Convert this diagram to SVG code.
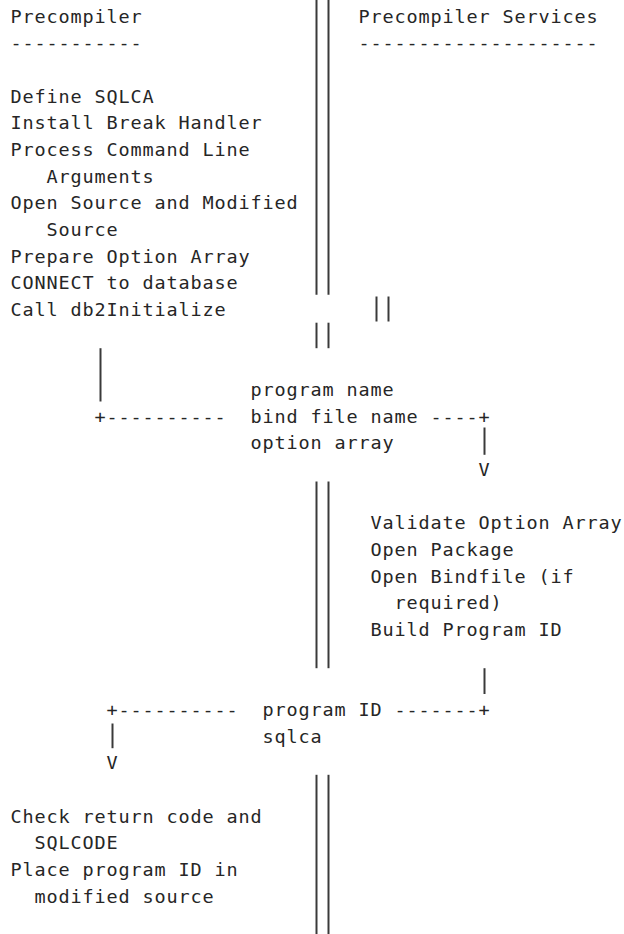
<svg xmlns="http://www.w3.org/2000/svg" width="624" height="934" viewBox="0 0 624 934">
  <style>
    text { font-family: "DejaVu Sans Mono", "Liberation Mono", monospace; font-size: 18.5px; letter-spacing: 0.86px; fill: #262626; white-space: pre; }
    .bar { stroke: #3a3a3a; stroke-width: 2; fill: none; }
  </style>
  <rect width="624" height="934" fill="#ffffff"/>

  <!-- column headings -->
  <g id="precompiler-heading">
    <text x="10.5" y="22.7">Precompiler</text>
    <text x="10.5" y="49.4">-----------</text>
  </g>
  <g id="services-heading">
    <text x="358.5" y="22.7">Precompiler Services</text>
    <text x="358.5" y="49.4">--------------------</text>
  </g>

  <!-- precompiler start-up steps -->
  <g id="precompiler-init">
    <text x="10.5" y="102.7">Define SQLCA</text>
    <text x="10.5" y="129.4">Install Break Handler</text>
    <text x="10.5" y="156.0">Process Command Line</text>
    <text x="46.5" y="182.7">Arguments</text>
    <text x="10.5" y="209.4">Open Source and Modified</text>
    <text x="46.5" y="236.0">Source</text>
    <text x="10.5" y="262.7">Prepare Option Array</text>
    <text x="10.5" y="289.4">CONNECT to database</text>
    <text x="10.5" y="316.0">Call db2Initialize</text>
  </g>

  <!-- parameters passed to db2Initialize -->
  <g id="init-parameters">
    <text x="250.5" y="396.0">program name</text>
    <text x="250.5" y="422.7">bind file name</text>
    <text x="250.5" y="449.4">option array</text>
  </g>

  <!-- services-side processing -->
  <g id="services-init">
    <text x="370.5" y="529.4">Validate Option Array</text>
    <text x="370.5" y="556.0">Open Package</text>
    <text x="370.5" y="582.7">Open Bindfile (if</text>
    <text x="394.5" y="609.4">required)</text>
    <text x="370.5" y="636.0">Build Program ID</text>
  </g>

  <!-- values returned to the precompiler -->
  <g id="init-results">
    <text x="262.5" y="716.0">program ID</text>
    <text x="262.5" y="742.7">sqlca</text>
  </g>

  <!-- precompiler follow-up steps -->
  <g id="precompiler-finish">
    <text x="10.5" y="822.7">Check return code and</text>
    <text x="34.5" y="849.4">SQLCODE</text>
    <text x="10.5" y="876.0">Place program ID in</text>
    <text x="34.5" y="902.7">modified source</text>
  </g>

  <g id="connectors">
    <!-- double-bar divider between the two sides -->
    <line class="bar" x1="316.5" y1="0" x2="316.5" y2="294.8"/>
    <line class="bar" x1="328.5" y1="0" x2="328.5" y2="294.8"/>
    <line class="bar" x1="376.5" y1="296.5" x2="376.5" y2="321.5"/>
    <line class="bar" x1="388.5" y1="296.5" x2="388.5" y2="321.5"/>
    <line class="bar" x1="316.5" y1="322.7" x2="316.5" y2="348.2"/>
    <line class="bar" x1="328.5" y1="322.7" x2="328.5" y2="348.2"/>
    <line class="bar" x1="316.5" y1="481.5" x2="316.5" y2="668.2"/>
    <line class="bar" x1="328.5" y1="481.5" x2="328.5" y2="668.2"/>
    <line class="bar" x1="316.5" y1="774.8" x2="316.5" y2="934"/>
    <line class="bar" x1="328.5" y1="774.8" x2="328.5" y2="934"/>

    <!-- call: precompiler to services -->
    <line class="bar" x1="100.5" y1="348.2" x2="100.5" y2="401.5"/>
    <text x="94.5" y="422.7">+----------</text>
    <text x="430.5" y="422.7">----+</text>
    <line class="bar" x1="484.5" y1="427.5" x2="484.5" y2="454.8"/>
    <text x="478.5" y="476.0">V</text>

    <!-- return: services to precompiler -->
    <line class="bar" x1="484.5" y1="668.2" x2="484.5" y2="694.0"/>
    <text x="106.5" y="716.0">+----------</text>
    <text x="394.5" y="716.0">-------+</text>
    <line class="bar" x1="112.5" y1="723.5" x2="112.5" y2="748.2"/>
    <text x="106.5" y="769.4">V</text>
  </g>
</svg>
